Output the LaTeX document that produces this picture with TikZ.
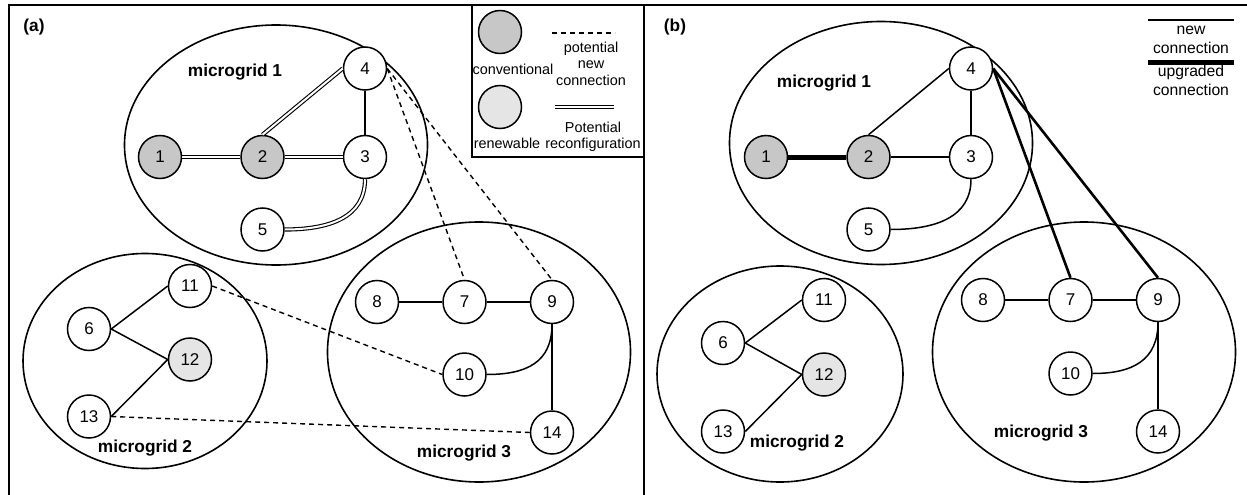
\documentclass[tikz,border=0pt]{standalone}
\usepackage{fontspec}
\setmainfont{Liberation Sans}
\usetikzlibrary{
	positioning,
	shapes.geometric
}

\begin{document}
\begin{tikzpicture}[
		x=1pt, y=-1pt,
		BusStyle/.style={draw, circle, minimum size=43pt, inner sep=0pt, line width=1.5pt, fill=white, font=\fontsize{17}{18}\selectfont},
		ConvStyle/.style={BusStyle, fill=black!22},
		RenewStyle/.style={BusStyle, fill=black!10},
		GridStyle/.style={draw, ellipse, line width=1.6pt, inner sep=0pt},
		GridLabel/.style={font=\bfseries\fontsize{17.3}{20}\selectfont},
		KeyText/.style={align=center, inner sep=0pt, font=\fontsize{14.4}{16.5}\selectfont},
		Link/.style={line width=1.5pt},
		NewLink/.style={line width=1.4pt, dash pattern=on 5pt off 4pt},
		ReconfLink/.style={double, line width=1.1pt, double distance=2pt},
		AddedLink/.style={line width=2.6pt},
		UpgradeLink/.style={line width=5pt}]
	\useasboundingbox (0,0) rectangle (1247,495);
	\draw[line width=1.6pt] (9,495) -- (9,5) -- (1247,5);
	\draw[line width=1.6pt] (644,5) -- (644,495);
	\node[GridLabel] (labelA) at (34,27) {(a)};
	\node[GridLabel] (labelB) at (675,27) {(b)};
	% legend (a)
	\draw[line width=1.6pt] (472,5) rectangle (644,157);
	\node[ConvStyle] (keyConv) at (500,32) {};
	\node[RenewStyle] (keyRenew) at (500,107) {};
	\node[KeyText] (keyConvText) at (513,69) {conventional};
	\node[KeyText] (keyRenewText) at (507,143) {renewable};
	\coordinate (keyNewL) at (552,33);
	\coordinate (keyNewR) at (615,33);
	\draw[NewLink] (keyNewL) -- (keyNewR);
	\node[KeyText] (keyNewText) at (591,63.5) {potential\\new\\connection};
	\coordinate (keyReconfL) at (555,107);
	\coordinate (keyReconfR) at (614,107);
	\draw[ReconfLink] (keyReconfL) -- (keyReconfR);
	\node[KeyText, font=\fontsize{14.4}{16}\selectfont] (keyReconfText) at (593,136.4) {Potential\\reconfiguration};
	% legend (b)
	\coordinate (keyAddL) at (1148,20);
	\coordinate (keyAddR) at (1234,20);
	\draw[AddedLink] (keyAddL) -- (keyAddR);
	\node[KeyText, font=\fontsize{15.7}{19}\selectfont] (keyAddText) at (1191,39.5) {new\\connection};
	\coordinate (keyUpL) at (1148,63);
	\coordinate (keyUpR) at (1234,63);
	\draw[UpgradeLink] (keyUpL) -- (keyUpR);
	\node[KeyText, font=\fontsize{15.7}{19}\selectfont] (keyUpText) at (1191,80.8) {upgraded\\connection};
	% panel (a)
	\node[GridStyle, minimum width=303pt, minimum height=240pt] (gridA1) at (276,145) {};
	\node[GridStyle, minimum width=244pt, minimum height=215pt] (gridA2) at (145,361) {};
	\node[GridStyle, minimum width=303pt, minimum height=260pt] (gridA3) at (479,352) {};
	\node[GridLabel] (nameA1) at (235,72) {microgrid 1};
	\node[GridLabel] (nameA2) at (145,448) {microgrid 2};
	\node[GridLabel] (nameA3) at (464,453) {microgrid 3};
	\node[ConvStyle] (a1) at (160,157) {1};
	\node[ConvStyle, right=58pt of a1] (a2) {2};
	\node[BusStyle, right=58pt of a2] (a3) {3};
	\node[BusStyle, above=44pt of a3] (a4) {4};
	\node[BusStyle, below=28pt of a2] (a5) {5};
	\node[BusStyle] (a6) at (89,329) {6};
	\node[BusStyle] (a11) at (190,286) {11};
	\node[RenewStyle, below=29pt of a11] (a12) {12};
	\node[BusStyle, below=43pt of a6] (a13) {13};
	\node[BusStyle] (a8) at (377,302) {8};
	\node[BusStyle, right=43pt of a8] (a7) {7};
	\node[BusStyle, right=43pt of a7] (a9) {9};
	\node[BusStyle, below=28pt of a7] (a10) {10};
	\node[BusStyle, below=86pt of a9] (a14) {14};
	\draw[ReconfLink] (a1) -- (a2);
	\draw[ReconfLink] (a2) -- (a3);
	\draw[ReconfLink] (a2.north) -- (a4.west);
	\draw[Link] (a4) -- (a3);
	\draw[ReconfLink] (a3.south) .. controls +(0pt,-38pt) and +(45pt,0pt) .. (a5.east);
	\draw[NewLink] (a4.east) -- (a7.north);
	\draw[NewLink] (a4.east) -- (a9.north);
	\draw[NewLink] (a11.east) -- (a10.west);
	\draw[NewLink] (a13.east) -- (a14.west);
	\draw[Link] (a6.east) -- (a11.west);
	\draw[Link] (a6.east) -- (a12.west);
	\draw[Link] (a12.west) -- (a13.east);
	\draw[Link] (a8) -- (a7);
	\draw[Link] (a7) -- (a9);
	\draw[Link] (a9) -- (a14);
	\draw[Link] (a9.south) .. controls +(0pt,-38pt) and +(40pt,0pt) .. (a10.east);
	% panel (b)
	\node[GridStyle, minimum width=303pt, minimum height=243pt] (gridB1) at (881,143) {};
	\node[GridStyle, minimum width=246pt, minimum height=216pt] (gridB2) at (780,374) {};
	\node[GridStyle, minimum width=303pt, minimum height=260pt] (gridB3) at (1084,352) {};
	\node[GridLabel] (nameB1) at (824,83) {microgrid 1};
	\node[GridLabel] (nameB2) at (797,443) {microgrid 2};
	\node[GridLabel] (nameB3) at (1041,433) {microgrid 3};
	\node[ConvStyle] (b1) at (766,157) {1};
	\node[ConvStyle, right=58pt of b1] (b2) {2};
	\node[BusStyle, right=58pt of b2] (b3) {3};
	\node[BusStyle, above=44pt of b3] (b4) {4};
	\node[BusStyle, below=28pt of b2] (b5) {5};
	\node[BusStyle] (b6) at (723,343) {6};
	\node[BusStyle] (b11) at (824,300) {11};
	\node[RenewStyle, below=30pt of b11] (b12) {12};
	\node[BusStyle, below=44pt of b6] (b13) {13};
	\node[BusStyle] (b8) at (983,300) {8};
	\node[BusStyle, right=43pt of b8] (b7) {7};
	\node[BusStyle, right=43pt of b7] (b9) {9};
	\node[BusStyle, below=29pt of b7] (b10) {10};
	\node[BusStyle, below=87pt of b9] (b14) {14};
	\draw[UpgradeLink] (b1) -- (b2);
	\draw[Link] (b2) -- (b3);
	\draw[Link] (b2.north) -- (b4.west);
	\draw[Link] (b4) -- (b3);
	\draw[Link] (b3.south) .. controls +(0pt,-38pt) and +(45pt,0pt) .. (b5.east);
	\draw[AddedLink] (b4.east) -- (b7.north);
	\draw[AddedLink] (b4.east) -- (b9.north);
	\draw[Link] (b6.east) -- (b11.west);
	\draw[Link] (b6.east) -- (b12.west);
	\draw[Link] (b12.west) -- (b13.east);
	\draw[Link] (b8) -- (b7);
	\draw[Link] (b7) -- (b9);
	\draw[Link] (b9) -- (b14);
	\draw[Link] (b9.south) .. controls +(0pt,-38pt) and +(40pt,0pt) .. (b10.east);
\end{tikzpicture}
\end{document}
